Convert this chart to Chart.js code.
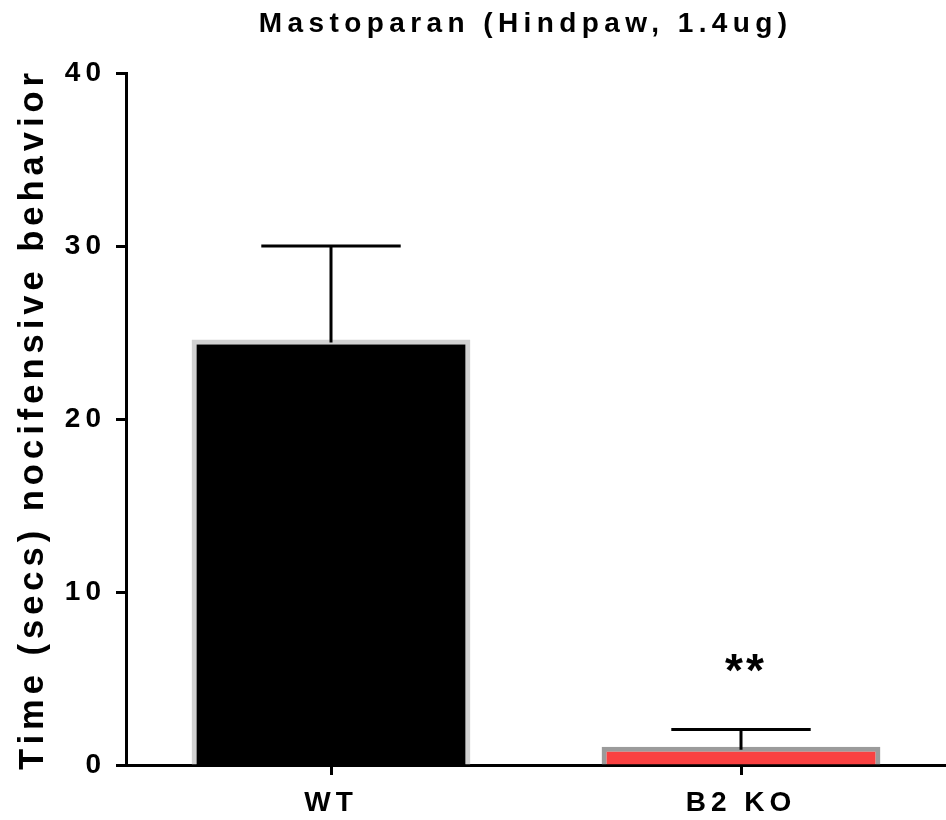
<!DOCTYPE html>
<html><head><meta charset="utf-8">
<script src="https://cdn.jsdelivr.net/npm/chart.js@4"></script>
<style>html,body{margin:0;padding:0;background:#fff;} canvas{display:block;}</style>
</head><body>
<canvas id="c" width="946" height="820"></canvas>
<script>
const categories = ['WT', 'B2 KO'];
const meanValues = [24.6, 1.05];
const errorTops = [30.0, 2.05];
const significance = ['', '**'];
const yTicks = [0, 10, 20, 30, 40];
const chartTitle = 'Mastoparan (Hindpaw, 1.4ug)';
const yAxisTitle = 'Time (secs) nocifensive behavior';
const barFills = ['#000000', '#f94141'];
const barBorders = ['#d2d2d2', '#9b9b9b'];

const FONT = "'Liberation Sans', Arial, Helvetica, sans-serif";

const spacingPlugin = {
  id: 'spacing',
  beforeDraw(chart) { chart.ctx.letterSpacing = '5px'; }
};

const errorBarPlugin = {
  id: 'errbars',
  afterDatasetsDraw(chart) {
    const meta = chart.getDatasetMeta(0);
    const y = chart.scales.y;
    const ctx = chart.ctx;
    ctx.save();
    ctx.strokeStyle = '#000';
    ctx.lineWidth = 3;
    meta.data.forEach((bar, i) => {
      const top = y.getPixelForValue(errorTops[i]);
      const base = y.getPixelForValue(meanValues[i]);
      const half = bar.width / 4;
      ctx.beginPath();
      ctx.moveTo(bar.x, base + 3);
      ctx.lineTo(bar.x, top);
      ctx.moveTo(bar.x - half, top);
      ctx.lineTo(bar.x + half, top);
      ctx.stroke();
      if (significance[i]) {
        ctx.fillStyle = '#000';
        ctx.font = 'bold 46px ' + FONT;
        ctx.letterSpacing = '3px';
        ctx.textAlign = 'center';
        ctx.textBaseline = 'alphabetic';
        ctx.fillText(significance[i], bar.x + 5, top - 44);
      }
    });
    ctx.restore();
  },
  afterDraw(chart) {
    const ctx = chart.ctx;
    ctx.save();
    ctx.fillStyle = '#000';
    ctx.font = 'bold 28px ' + FONT;
    ctx.letterSpacing = '5.4px';
    ctx.textAlign = 'center';
    ctx.textBaseline = 'alphabetic';
    const cx = (chart.chartArea.left + chart.chartArea.right) / 2 - 13;
    ctx.fillText(chartTitle, cx + 2.7, 32);
    ctx.restore();
  }
};

new Chart(document.getElementById('c'), {
  type: 'bar',
  data: {
    labels: categories,
    datasets: [{
      data: meanValues,
      backgroundColor: barFills,
      borderColor: barBorders,
      borderWidth: 5,
      borderSkipped: 'start',
      barPercentage: 0.68,
      categoryPercentage: 1.0
    }]
  },
  options: {
    responsive: false,
    animation: false,
    devicePixelRatio: 1,
    layout: { padding: { top: 73, right: 0, bottom: 0, left: 0 } },
    plugins: { legend: { display: false }, title: { display: false }, tooltip: { enabled: false } },
    scales: {
      x: {
        offset: true,
        grid: { display: true, drawOnChartArea: false, drawTicks: true, tickLength: 10, tickWidth: 3, tickColor: '#000', offset: false },
        border: { display: true, color: '#000', width: 3 },
        ticks: { color: '#000', font: { family: FONT, size: 28, weight: 'bold' }, padding: 11, maxRotation: 0 },
        afterFit(scale) { scale.height = 55; }
      },
      y: {
        min: 0, max: 40,
        afterBuildTicks(scale) { scale.ticks = yTicks.map(v => ({ value: v })); },
        grid: { display: true, drawOnChartArea: false, drawTicks: true, tickLength: 10, tickWidth: 3, tickColor: '#000' },
        border: { display: true, color: '#000', width: 3 },
        ticks: { color: '#000', font: { family: FONT, size: 28, weight: 'bold' }, padding: 10 },
        title: { display: true, text: yAxisTitle, color: '#000', font: { family: FONT, size: 34.5, weight: 'bold' }, padding: { top: 13, bottom: 0 } },
        afterFit(scale) { scale.width = 126; }
      }
    }
  },
  plugins: [spacingPlugin, errorBarPlugin]
});
</script>
</body></html>
